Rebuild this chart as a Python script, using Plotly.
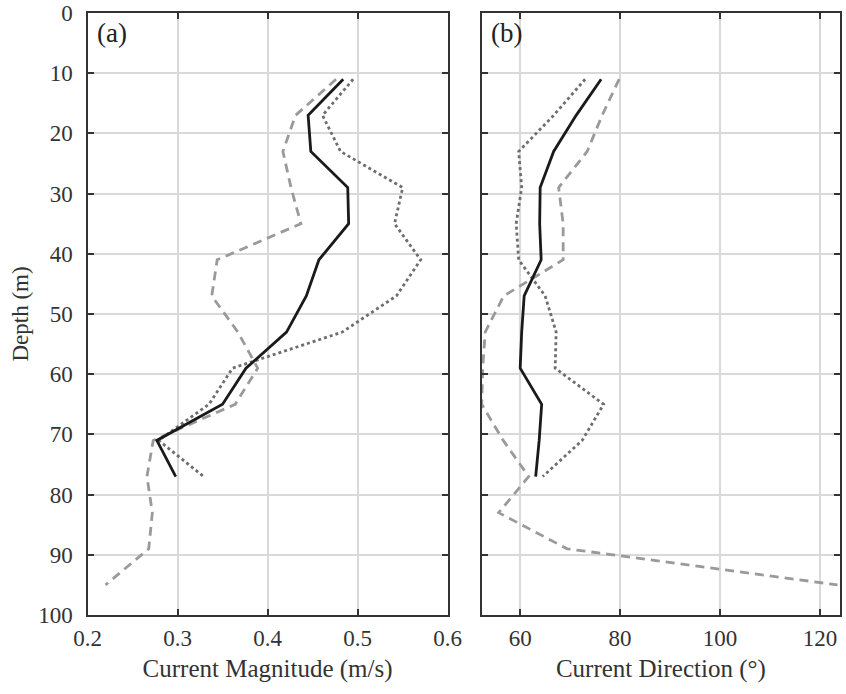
import plotly.graph_objects as go

# ---- data ----
depth = [11, 17, 23, 29, 35, 41, 47, 53, 59, 65, 71, 77]
depth_long = [11, 17, 23, 29, 35, 41, 47, 53, 59, 65, 71, 77, 83, 89, 95]

mag_solid = [0.484, 0.445, 0.448, 0.489, 0.490, 0.457, 0.443, 0.421, 0.376, 0.350, 0.277, 0.298]
mag_dotted = [0.495, 0.461, 0.481, 0.550, 0.541, 0.570, 0.543, 0.483, 0.361, 0.335, 0.279, 0.329]
mag_dashed = [0.476, 0.431, 0.417, 0.426, 0.437, 0.344, 0.338, 0.367, 0.389, 0.364, 0.273, 0.266, 0.272, 0.268, 0.220]

dir_solid = [76.2, 71.2, 66.7, 64.0, 63.9, 64.2, 60.8, 60.3, 60.0, 64.3, 63.8, 63.1]
dir_dotted = [73.0, 66.7, 59.7, 60.3, 59.2, 59.7, 65.0, 67.2, 67.0, 76.7, 72.4, 64.5]
dir_dashed = [79.8, 76.4, 73.4, 67.7, 68.6, 68.6, 56.7, 53.0, 52.5, 52.3, 56.6, 61.7, 55.7, 69.4, 123.5]

y_ticks = [0, 10, 20, 30, 40, 50, 60, 70, 80, 90, 100]
mag_ticks = [0.2, 0.3, 0.4, 0.5, 0.6]
dir_ticks = [60, 80, 100, 120]

FONT = "Liberation Serif"
W, H = 846, 694
BORDER = "#333333"
GRID = "#d9d9d9"
TXT = "#333333"

solid_style = dict(color="#1a1a1a", width=2.8)
dotted_style = dict(color="#6e6e6e", width=2.8, dash="dot")
dashed_style = dict(color="#9a9a9a", width=2.8, dash="9px,6px")

fig = go.Figure()
fig.add_trace(go.Scatter(x=mag_dashed, y=depth_long, mode="lines", line=dashed_style, xaxis="x", yaxis="y"))
fig.add_trace(go.Scatter(x=mag_dotted, y=depth, mode="lines", line=dotted_style, xaxis="x", yaxis="y"))
fig.add_trace(go.Scatter(x=mag_solid, y=depth, mode="lines", line=solid_style, xaxis="x", yaxis="y"))

fig.add_trace(go.Scatter(x=dir_dashed, y=depth_long, mode="lines", line=dashed_style, xaxis="x2", yaxis="y2"))
fig.add_trace(go.Scatter(x=dir_dotted, y=depth, mode="lines", line=dotted_style, xaxis="x2", yaxis="y2"))
fig.add_trace(go.Scatter(x=dir_solid, y=depth, mode="lines", line=solid_style, xaxis="x2", yaxis="y2"))

ydom = [1 - 615 / H, 1 - 13 / H]

common_axis = dict(
    showline=True, linecolor=BORDER, linewidth=2.4, mirror="ticks",
    ticks="inside", ticklen=6, tickwidth=2, tickcolor=BORDER,
    showgrid=True, gridcolor=GRID, gridwidth=1.8, zeroline=False,
    automargin=False, ticklabeloverflow="allow",
    tickfont=dict(family=FONT, size=23, color=TXT),
)

fig.update_layout(
    width=W, height=H,
    margin=dict(l=0, r=0, t=0, b=0),
    paper_bgcolor="white", plot_bgcolor="white",
    showlegend=False,
    font=dict(family=FONT, color=TXT),
    xaxis=dict(domain=[87.5 / W, 447.7 / W], range=[0.2, 0.6], tickvals=mag_ticks,
               ticktext=[str(v) for v in mag_ticks], anchor="y", ticklabelstandoff=1,
               title=dict(text="Current Magnitude (m/s)", font=dict(family=FONT, size=25, color=TXT), standoff=10),
               **common_axis),
    yaxis=dict(domain=ydom, range=[100, 0], tickvals=y_ticks, anchor="x", ticklabelstandoff=8,
               title=dict(text="Depth (m)", font=dict(family=FONT, size=23, color=TXT), standoff=3),
               **common_axis),
    xaxis2=dict(domain=[481.7 / W, 840 / W], range=[52.3, 124], tickvals=dir_ticks, anchor="y2",
                ticklabelstandoff=1,
                title=dict(text="Current Direction (°)", font=dict(family=FONT, size=25, color=TXT), standoff=10),
                **common_axis),
    yaxis2=dict(domain=ydom, range=[100, 0], tickvals=y_ticks, anchor="x2",
                showticklabels=False, **common_axis),
    annotations=[
        dict(text="(a)", x=0.02, y=0.995, xref="x domain", yref="y domain", xanchor="left", yanchor="top",
             showarrow=False, font=dict(family=FONT, size=27, color="#222222")),
        dict(text="(b)", x=0.02, y=0.995, xref="x2 domain", yref="y2 domain", xanchor="left", yanchor="top",
             showarrow=False, font=dict(family=FONT, size=27, color="#222222")),
    ],
)

fig.write_html("out.html", config={"displayModeBar": False},
               post_script="document.body.style.margin='0';")
